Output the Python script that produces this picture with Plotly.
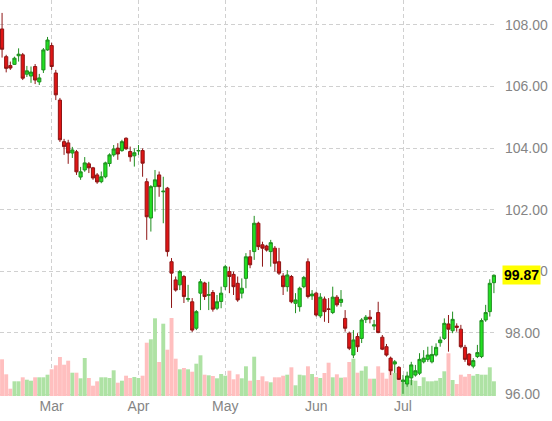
import plotly.graph_objects as go

# Daily OHLC (index 0 = first session shown, mid-February)
opens = [107.87,106.97,106.68,106.72,107.00,107.03,106.40,106.34,106.65,106.15,
         106.54,107.19,107.33,106.44,105.56,104.21,104.17,103.84,103.88,103.06,
         103.29,103.49,103.36,103.13,102.91,103.07,103.50,103.78,104.00,103.92,
         104.32,103.89,103.75,103.91,103.92,102.91,101.73,102.75,103.13,102.58,
         102.70,100.31,99.72,99.56,99.83,99.09,99.01,98.15,99.29,99.62,
         99.22,99.31,98.80,99.02,99.50,99.99,99.90,99.61,99.29,99.77,
         100.47,100.64,101.56,100.86,100.82,100.64,100.75,100.31,99.85,99.50,
         99.83,98.96,98.85,99.50,100.31,99.20,99.29,98.55,99.10,98.78,
         98.66,99.16,98.99,98.47,97.99,97.28,97.88,97.82,98.43,98.51,
         98.22,98.66,97.86,97.55,97.18,96.99,96.88,96.41,96.34,96.54,
         96.63,96.69,97.06,97.14,97.06,97.28,97.68,97.82,98.29,98.07,
         98.22,98.12,97.53,97.31,96.92,97.23,97.23,98.42,98.69,99.63]
highs = [108.39,107.03,106.81,106.97,107.24,107.09,106.67,106.65,106.73,106.41,
         107.25,107.61,107.42,106.54,105.63,104.30,104.27,104.04,103.94,103.39,
         103.71,103.55,103.39,103.19,103.24,103.56,103.83,104.10,104.16,104.27,
         104.35,104.05,103.99,104.10,103.99,103.02,102.80,103.29,103.24,103.07,
         102.74,100.43,99.83,100.04,99.88,99.56,99.13,98.74,99.75,99.66,
         99.66,99.39,99.23,99.50,100.21,100.15,99.99,99.83,99.77,100.59,
         100.69,101.80,101.61,100.96,100.86,101.02,100.82,100.76,99.94,100.04,
         99.88,99.29,99.50,99.85,100.42,99.39,99.34,99.29,99.18,99.13,
         99.50,99.23,99.39,98.74,98.04,98.09,97.99,98.48,98.58,98.74,
         98.42,99.01,97.93,97.64,97.23,97.12,96.92,96.63,96.74,97.06,
         96.96,97.34,97.44,97.55,97.58,97.66,97.88,98.47,98.58,98.69,
         98.31,98.26,97.61,97.34,97.18,97.61,98.47,98.91,99.74,99.90]
lows = [106.94,106.46,106.54,106.70,106.81,106.21,106.31,106.12,106.08,106.05,
        106.44,107.16,106.54,105.56,104.20,103.78,103.49,103.68,103.13,102.97,
        103.23,103.19,102.97,102.84,102.86,103.02,103.40,103.72,103.62,103.88,
        103.94,103.56,103.40,103.78,103.07,101.02,101.29,101.94,102.42,101.56,
        100.48,98.81,99.34,99.39,98.97,99.01,98.03,98.09,98.74,99.07,
        98.74,98.69,98.74,98.80,99.39,99.29,99.23,99.01,99.12,99.45,
        100.10,100.37,100.69,100.15,100.64,100.15,99.99,99.88,99.23,99.34,
        98.96,98.64,98.69,99.45,99.12,99.07,98.53,98.48,98.36,98.32,
        98.61,98.85,98.85,98.04,97.44,97.18,97.38,97.67,98.32,98.31,
        98.09,97.99,97.44,97.23,96.63,96.70,96.47,96.02,96.25,96.30,
        96.58,96.63,97.01,97.06,97.01,97.23,97.55,97.77,97.39,97.99,
        98.04,97.50,97.06,96.92,96.85,97.18,97.18,98.36,98.53,99.29]
closes = [107.21,106.59,106.60,106.92,107.05,106.27,106.51,106.47,106.21,106.28,
          107.19,107.51,106.65,105.73,104.27,104.05,103.84,103.94,103.23,103.23,
          103.52,103.36,103.03,102.90,103.07,103.52,103.78,103.97,103.81,104.21,
          103.98,103.72,103.85,103.92,103.51,101.77,102.75,102.97,102.75,102.60,
          100.64,99.94,99.39,99.99,99.18,99.11,98.09,98.69,99.66,99.18,
          99.24,98.77,99.01,99.29,100.15,99.83,99.50,99.07,99.45,100.47,
          100.21,101.56,100.80,100.75,100.69,100.93,100.26,99.94,99.50,99.88,
          99.01,99.07,99.45,99.80,99.18,99.26,98.58,99.16,98.69,98.76,
          99.16,98.91,99.09,98.15,97.50,97.77,97.55,98.42,98.51,98.45,
          98.26,98.01,97.47,97.28,96.77,97.06,96.49,96.47,96.60,96.96,
          96.77,97.14,97.18,97.28,97.30,97.53,97.77,98.31,98.12,98.44,
          98.18,97.55,97.14,96.96,97.10,97.36,98.40,98.66,99.61,99.87]
volumes = [367,217,73,147,147,187,163,153,187,187,
           187,213,267,307,390,313,353,233,233,177,
           380,180,103,147,187,187,180,257,133,153,
           203,180,190,180,203,533,567,777,340,723,
           463,780,373,267,280,267,243,323,407,213,
           207,200,177,220,203,253,167,217,177,297,
           153,393,160,197,147,137,187,187,203,213,
           287,107,213,207,297,220,190,180,230,333,
           187,217,183,187,340,373,233,253,297,173,
           173,297,233,173,273,230,213,133,133,160,
           153,100,187,147,147,153,180,247,427,160,
           120,213,193,220,203,220,213,213,287,147]

month_labels = ["Mar", "Apr", "May", "Jun", "Jul"]
month_start_idx = [12, 33, 54, 76, 97]
price_ticks = [96, 98, 100, 102, 104, 106, 108]

n = len(closes)
x = list(range(n))
vol_colors = ["#aee2a4" if c >= o else "#ffbfbf" for o, c in zip(opens, closes)]

FONT = "Liberation Sans, Arial, sans-serif"
GRID = "#d0d0d0"

fig = go.Figure()
fig.add_trace(go.Bar(x=x, y=volumes, marker=dict(color=vol_colors, line=dict(width=0)),
                     width=0.95, yaxis="y", hoverinfo="skip"))
fig.add_trace(go.Candlestick(
    x=x, open=opens, high=highs, low=lows, close=closes, yaxis="y2",
    increasing=dict(line=dict(color="#1f8f1f", width=1), fillcolor="#22e022"),
    decreasing=dict(line=dict(color="#8e1515", width=1), fillcolor="#e01515"),
    whiskerwidth=0,
))

fig.update_layout(
    width=552, height=421,
    margin=dict(l=0, r=56, t=0, b=25),
    paper_bgcolor="white", plot_bgcolor="white",
    showlegend=False, bargap=0.05, boxgap=0.15, boxgroupgap=0.1,
    font=dict(family=FONT),
    xaxis=dict(range=[-0.5, n - 0.5], tickvals=month_start_idx, ticktext=month_labels,
               showgrid=True, gridcolor=GRID, griddash="4px,3px", gridwidth=1,
               ticks="", zeroline=False, showline=False,
               tickfont=dict(size=14, color="#858585", family=FONT),
               rangeslider=dict(visible=False)),
    yaxis=dict(range=[0, 3960], visible=False, showgrid=False, fixedrange=True),
    yaxis2=dict(overlaying="y", side="right", range=[95.95, 108.81],
                tickvals=price_ticks, tickformat=".2f",
                showgrid=True, gridcolor=GRID, griddash="4px,3px", gridwidth=1,
                ticks="", zeroline=False, showline=False, ticklabelstandoff=8,
                tickfont=dict(size=14, color="#858585", family=FONT)),
)

fig.add_annotation(
    x=1, xref="paper", xanchor="left", xshift=6,
    y=closes[-1], yref="y2", yanchor="middle",
    text="<b>%.2f</b>" % closes[-1], showarrow=False,
    bgcolor="#ffff00", borderpad=1,
    font=dict(size=14, color="black", family=FONT),
)

fig.write_html("out.html", config={"displayModeBar": False},
               post_script="document.body.style.margin='0';document.body.style.overflow='hidden';")
